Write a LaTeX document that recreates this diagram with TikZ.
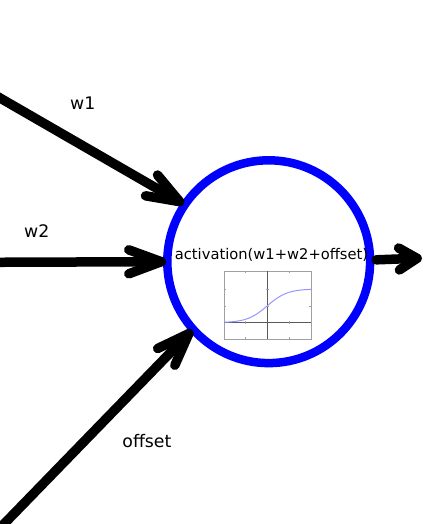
\documentclass[tikz,border=0pt]{standalone}
\usepackage{fontspec}
\setmainfont{DejaVu Sans}
\usetikzlibrary{decorations.markings}
\definecolor{ringblue}{RGB}{0,0,255}
\definecolor{curveblue}{RGB}{150,150,255}
\definecolor{boxgray}{RGB}{160,160,160}
\definecolor{axisgray}{RGB}{90,90,90}
\tikzset{
  shaft/.style={line width=9.5pt, line cap=round, line join=round},
  inlink/.style={shaft, postaction={decorate}, decoration={markings,
      mark=at position 1 with {\draw[shaft] (-32.5pt,12pt) -- (0pt,0pt) -- (-32.5pt,-12pt);}}},
  outlink/.style={shaft, postaction={decorate}, decoration={markings,
      mark=at position 1 with {\draw[shaft] (-18pt,11pt) -- (0pt,0pt) -- (-18pt,-11pt);}}},
  neuronstyle/.style={circle, draw=ringblue, line width=8.5pt, minimum size=202.8pt, inner sep=0pt, outer sep=6pt},
  lbl/.style={font=\fontsize{17.3}{20}\selectfont, anchor=base, inner sep=0pt},
  acttext/.style={font=\fontsize{14.7}{17}\selectfont, anchor=base, inner sep=0pt},
}
\begin{document}
\begin{tikzpicture}[x=1pt,y=-1pt]
\useasboundingbox (0,0) rectangle (423,524);
\fill[white] (0,0) rectangle (423,524);

\node[neuronstyle] (neuron) at (268.7,261.7) {};

% small plot inside neuron
\draw[boxgray, line width=0.9pt] (224,271) rectangle (311,339);
\draw[axisgray, line width=0.9pt] (267.3,271) -- (267.3,339);
\draw[axisgray, line width=0.9pt] (224,322.7) -- (311,322.7);
\foreach \tx in {245.3,289.3} {
  \draw[boxgray, line width=0.5pt] (\tx,321.2) -- (\tx,324.2);
  \draw[boxgray, line width=0.5pt] (\tx,271) -- (\tx,273);
  \draw[boxgray, line width=0.5pt] (\tx,337) -- (\tx,339);
}
\foreach \ty in {289,305.8} {
  \draw[boxgray, line width=0.5pt] (265.8,\ty) -- (268.8,\ty);
  \draw[boxgray, line width=0.5pt] (224,\ty) -- (226,\ty);
  \draw[boxgray, line width=0.5pt] (309,\ty) -- (311,\ty);
}
\draw[curveblue, line width=1pt] plot[domain=224:311, samples=70, smooth]
  (\x, {322.7 - 33.8/(1+exp(-0.1*(\x-267.3)))});

\node[acttext] (act) at (271.5,259.3) {activation(w1+w2+offset)};

% connector end points
\coordinate (s1) at (-10,92.2);
\coordinate (s2) at (-10,262.3);
\coordinate (s3) at (-11.6,540);
\coordinate (out) at (417,258.3);

\draw[inlink] (s1) -- (neuron.146.5);
\draw[inlink] (s2) -- (neuron.180);
\draw[inlink] (s3) -- (neuron.222.7);
\draw[outlink] (neuron.1.8) -- (out);

\node[lbl] (w1) at (82.7,109.3) {w1};
\node[lbl] (w2) at (36.7,237.3) {w2};
\node[lbl] (off) at (146.9,447.7) {offset};
\end{tikzpicture}
\end{document}
